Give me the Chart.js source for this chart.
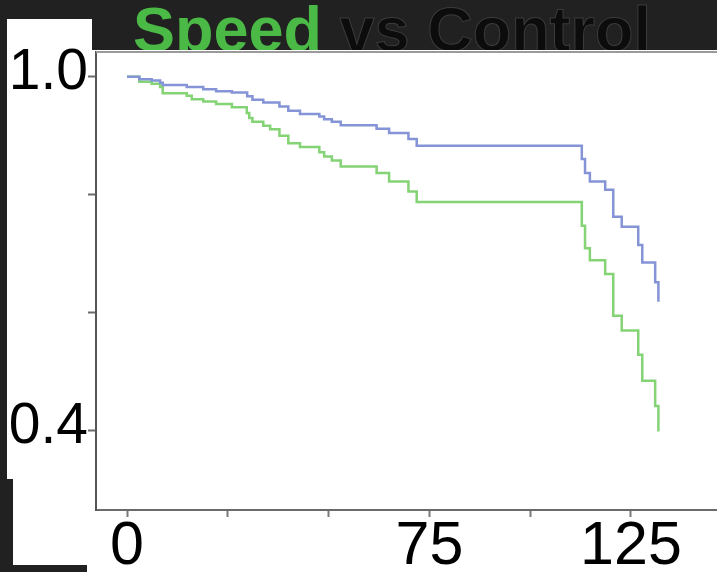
<!DOCTYPE html>
<html>
<head>
<meta charset="utf-8">
<script src="https://cdn.jsdelivr.net/npm/chart.js@4.4.1/dist/chart.umd.min.js"></script>
<style>
  html, body { margin: 0; padding: 0; width: 717px; height: 572px; overflow: hidden; background: #212121; }
  .panel { position: absolute; background: #ffffff; }
  #title {
    position: absolute; left: 133px; top: -7px; white-space: nowrap;
    font: bold 63px "Liberation Sans", Arial, sans-serif;
  }
  #title .speed { color: #4bb946; }
  #title .rest { color: #0c0c0c; -webkit-text-stroke: 1px #3c3c3c; }
  #wrap { position: absolute; left: 0; top: 0; width: 760px; height: 572px; }
</style>
</head>
<body>
<div id="title"><span class="speed">Speed</span> <span class="rest">vs Control</span></div>
<div class="panel" style="left:7px;top:19px;width:85px;height:460px;"></div>
<div class="panel" style="left:87px;top:50px;width:630px;height:522px;"></div>
<div class="panel" style="left:13px;top:479px;width:80px;height:86px;"></div>
<div id="wrap"><canvas id="survChart" width="760" height="572"></canvas></div>

<script>
// survival curves: time points and survival fraction after each event
const speedTimes = [0, 3.05, 6.1, 8.2, 8.85, 14.8, 16.05, 18.9, 22.1, 26.0, 29.7, 30.3, 31.1, 33.8, 35.5, 37.8, 40.0, 42.9, 47.7, 48.9, 50.8, 53.0, 61.9, 65.0, 69.8, 71.85, 112.8, 113.6, 114.8, 118.6, 120.6, 122.7, 126.8, 127.8, 131.0, 131.8];
const speedSurv = [1.0, 0.9915, 0.988, 0.9826, 0.9723, 0.968, 0.962, 0.958, 0.9537, 0.9486, 0.9385, 0.930, 0.924, 0.917, 0.911, 0.900, 0.8876, 0.881, 0.872, 0.865, 0.858, 0.848, 0.837, 0.8226, 0.8056, 0.788, 0.7475, 0.7097, 0.689, 0.666, 0.595, 0.570, 0.529, 0.485, 0.442, 0.399];

const controlTimes = [0, 3.05, 6.1, 8.2, 8.85, 14.8, 18.9, 22.1, 26.0, 29.8, 31.1, 33.8, 37.8, 40.0, 42.9, 47.7, 48.9, 50.8, 53.0, 61.9, 65.0, 69.8, 71.85, 112.8, 113.6, 114.8, 118.6, 120.6, 122.7, 126.8, 127.8, 131.0, 131.8];
const controlSurv = [1.0, 0.996, 0.9938, 0.990, 0.986, 0.9825, 0.979, 0.9757, 0.9735, 0.967, 0.961, 0.9565, 0.9497, 0.9424, 0.937, 0.9327, 0.928, 0.924, 0.918, 0.912, 0.9046, 0.8944, 0.883, 0.8605, 0.837, 0.8226, 0.8085, 0.763, 0.746, 0.715, 0.6855, 0.652, 0.619];

const xTicks = [0, 25, 50, 75, 100, 125];
const xTickLabels = ['0', '', '', '75', '', '125'];
const yTicks = [0.4, 0.6, 0.8, 1.0];
const yTickLabels = ['0.4', '', '', '1.0'];

function toPoints(times, surv) {
    return times.map((t, i) => ({ x: t, y: surv[i] }));
}

// top edge of the plot box
const frameTop = {
    id: 'frameTop',
    afterDraw(chart) {
        const { ctx, chartArea } = chart;
        ctx.save();
        ctx.strokeStyle = '#9a9a9a';
        ctx.lineWidth = 2;
        ctx.beginPath();
        ctx.moveTo(chartArea.left, chartArea.top);
        ctx.lineTo(chartArea.right, chartArea.top);
        ctx.stroke();
        ctx.restore();
    }
};

const ctx = document.getElementById('survChart').getContext('2d');
new Chart(ctx, {
    type: 'line',
    data: {
        datasets: [
            {
                label: 'Control',
                data: toPoints(controlTimes, controlSurv),
                borderColor: '#8494d6',
                borderWidth: 2.5,
                stepped: true,
                pointRadius: 0
            },
            {
                label: 'Speed',
                data: toPoints(speedTimes, speedSurv),
                borderColor: '#84d375',
                borderWidth: 2.5,
                stepped: true,
                pointRadius: 0
            }
        ]
    },
    options: {
        responsive: false,
        animation: false,
        layout: { padding: { top: 52, left: 0, right: 0, bottom: 0 } },
        plugins: {
            legend: { display: false },
            tooltip: { enabled: false }
        },
        scales: {
            x: {
                type: 'linear',
                min: -7.7,
                max: 157,
                afterBuildTicks: s => { s.ticks = xTicks.map(v => ({ value: v })); },
                afterFit: s => { s.height = 62; },
                ticks: {
                    color: '#000',
                    padding: 0,
                    maxRotation: 0,
                    autoSkip: false,
                    font: { family: 'Liberation Sans, Arial, sans-serif', size: 61, lineHeight: 1 },
                    callback: v => xTickLabels[xTicks.indexOf(v)] ?? ''
                },
                grid: { display: true, drawOnChartArea: false, drawTicks: true, tickLength: 7, color: '#7a7a7a', tickWidth: 2 },
                border: { display: true, color: '#6a6a6a', width: 2 }
            },
            y: {
                min: 0.266,
                max: 1.042,
                afterBuildTicks: s => { s.ticks = yTicks.map(v => ({ value: v })); },
                afterFit: s => { s.width = 96; },
                ticks: {
                    color: '#000',
                    padding: 0,
                    autoSkip: false,
                    labelOffset: -4,
                    font: { family: 'Liberation Sans, Arial, sans-serif', size: 57, lineHeight: 1 },
                    callback: v => yTickLabels[yTicks.indexOf(v)] ?? ''
                },
                grid: { display: true, drawOnChartArea: false, drawTicks: true, tickLength: 8, color: '#6a6a6a', tickWidth: 2 },
                border: { display: true, color: '#555', width: 2 }
            }
        }
    },
    plugins: [frameTop]
});
</script>
</body>
</html>
